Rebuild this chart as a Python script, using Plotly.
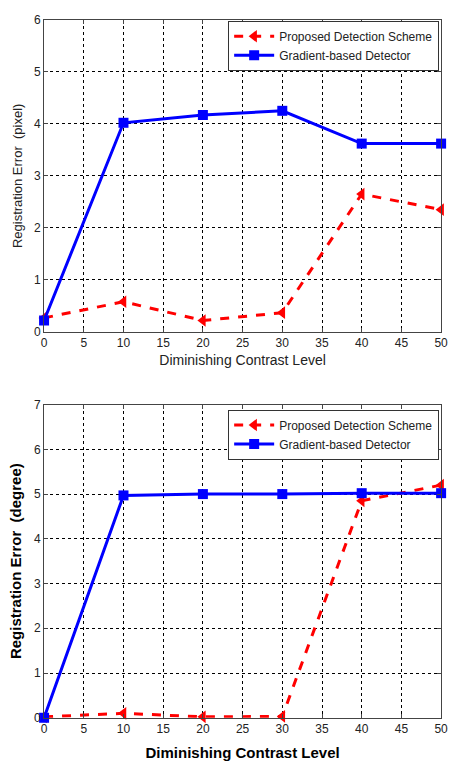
import plotly.graph_objects as go

x_levels = [0, 10, 20, 30, 40, 50]
pixel_proposed = [0.27, 0.58, 0.22, 0.37, 2.65, 2.35]
pixel_gradient = [0.22, 4.02, 4.17, 4.25, 3.62, 3.62]
deg_proposed = [0.02, 0.10, 0.02, 0.03, 4.85, 5.20]
deg_gradient = [0.0, 4.97, 5.00, 5.00, 5.02, 5.02]
names = ["Proposed Detection Scheme", "Gradient-based Detector"]

W, H = 453, 766
xd = [42 / W, 448 / W]
top_d = [1 - 331 / H, 1 - 13 / H]
bot_d = [1 - 724 / H, 1 - 405 / H]

fig = go.Figure()
red = "#ff0000"
blue = "#0000ff"

def add(xa, ya, legend, yp, yg):
    fig.add_trace(go.Scatter(x=x_levels, y=yp, name=names[0], xaxis=xa, yaxis=ya, legend=legend,
                             mode="lines+markers", line=dict(color=red, width=3, dash="dash"),
                             marker=dict(symbol="triangle-left", size=11, color=red), cliponaxis=False))
    fig.add_trace(go.Scatter(x=x_levels, y=yg, name=names[1], xaxis=xa, yaxis=ya, legend=legend,
                             mode="lines+markers", line=dict(color=blue, width=3),
                             marker=dict(symbol="square", size=10, color=blue), cliponaxis=False))

add("x", "y", "legend", pixel_proposed, pixel_gradient)
add("x2", "y2", "legend2", deg_proposed, deg_gradient)

tickfont = dict(family="Liberation Sans, Arial", size=12, color="#222222")
common_x = dict(range=[0, 50], tickvals=list(range(0, 51, 5)), showgrid=True, gridcolor="#000000",
                griddash="dot", gridwidth=1, showline=True, linecolor="#444444", linewidth=1,
                mirror="ticks", ticks="inside", ticklen=4, tickcolor="#444444", zeroline=False,
                tickfont=tickfont, domain=xd, ticklabeloverflow="allow")
common_y = dict(showgrid=True, gridcolor="#000000", griddash="dot", gridwidth=1, showline=True,
                linecolor="#444444", linewidth=1, mirror="ticks", ticks="inside", ticklen=4,
                tickcolor="#444444", zeroline=False, tickfont=tickfont, dtick=1,
                ticklabeloverflow="allow")

fig.update_layout(
    width=W, height=H, margin=dict(l=0, r=0, t=0, b=0),
    paper_bgcolor="white", plot_bgcolor="white", showlegend=True,
    xaxis=dict(common_x, anchor="y",
               title=dict(text="Diminishing Contrast Level", standoff=5,
                          font=dict(family="Liberation Sans, Arial", size=14, color="#222222"))),
    yaxis=dict(common_y, range=[0, 6], domain=top_d, anchor="x",
               title=dict(text="Registration Error  (pixel)", standoff=8,
                          font=dict(family="Liberation Sans, Arial", size=13, color="#222222"))),
    xaxis2=dict(common_x, anchor="y2",
                title=dict(text="<b>Diminishing Contrast Level</b>", standoff=12,
                           font=dict(family="Liberation Sans, Arial", size=15, color="#000000"))),
    yaxis2=dict(common_y, range=[0, 7], domain=bot_d, anchor="x2",
                title=dict(text="<b>Registration Error  (degree)</b>", standoff=8,
                           font=dict(family="Liberation Sans, Arial", size=15, color="#000000"))),
    legend=dict(x=446 / W, y=1 - 14 / H, xanchor="right", yanchor="top", bgcolor="white",
                bordercolor="#333333", borderwidth=1, tracegroupgap=0, itemwidth=40,
                font=dict(family="Liberation Sans, Arial", size=12, color="#222222")),
    legend2=dict(x=446 / W, y=1 - 410 / H, xanchor="right", yanchor="top", bgcolor="white",
                 bordercolor="#333333", borderwidth=1, tracegroupgap=0, itemwidth=40,
                 font=dict(family="Liberation Sans, Arial", size=12, color="#222222")),
)

fig.write_html("out.html")
